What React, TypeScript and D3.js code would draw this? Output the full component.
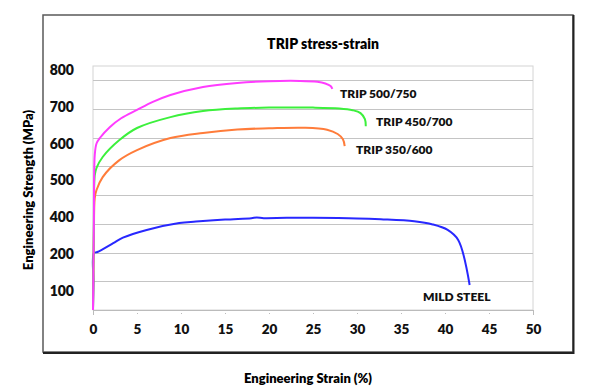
import { useRef, useEffect } from 'react'
import * as d3 from 'd3'

// strain (%) vs engineering stress (MPa)
const trip500: [number, number][] = [
    [0, 0], [0.1, 300], [0.2, 540], [0.4, 580], [0.8, 600], [1.9, 637], [3.2, 668], [5, 697],
    [6.8, 725], [8.8, 749], [12.5, 777], [16.4, 791], [20, 797], [23.5, 798], [25.5, 795],
    [26.4, 789], [27.0, 780], [27.2, 770],
]
const trip450: [number, number][] = [
    [0, 0], [0.1, 300], [0.2, 470], [0.4, 495], [1.1, 533], [3, 592], [5, 634], [8.8, 672],
    [12.5, 693], [16.4, 702], [20, 705], [25, 705], [28, 702], [29.5, 696], [30.4, 686],
    [30.9, 665], [31.0, 640],
]
const trip350: [number, number][] = [
    [0, 0], [0.1, 250], [0.2, 390], [0.4, 418], [1.1, 463], [3, 522], [5, 557], [8.8, 599],
    [12.5, 617], [16.4, 629], [20, 633], [24, 635], [26.6, 628], [27.8, 613], [28.4, 595],
    [28.6, 571],
]
const mildSteel: [number, number][] = [
    [0, 0], [0.05, 100], [0.1, 198], [0.5, 202], [2.3, 233], [3.4, 252], [6.1, 279], [9.8, 303],
    [11.7, 308], [15, 315], [18, 320], [18.6, 322], [19.4, 320], [22, 321], [25, 321], [30, 319],
    [32.7, 316], [36.5, 309], [38.6, 298], [40.3, 279], [41.5, 244], [42.8, 87],
]

const series = [
    { name: 'TRIP 500/750', data: trip500, color: '#ff3cff', label: [340, 94] },
    { name: 'TRIP 450/700', data: trip450, color: '#3cf03c', label: [376, 122] },
    { name: 'TRIP 350/600', data: trip350, color: '#ff7c3a', label: [356, 150] },
    { name: 'MILD STEEL', data: mildSteel, color: '#2828ff', label: [423, 297] },
]

const xTicks = [0, 5, 10, 15, 20, 25, 30, 35, 40, 45, 50]
const gridValues = [100, 200, 300, 400, 500, 600, 700, 800]
// the figure's y labels are pasted on, not aligned with the grid
const yLabels = ['800', '700', '600', '500', '400', '200', '100']

const FONT = 'Lato, "Open Sans", sans-serif'

export default function App() {
    const svgRef = useRef<SVGSVGElement>(null)

    useEffect(() => {
        if (!svgRef.current) return
        const svg = d3.select(svgRef.current)
        svg.selectAll('*').remove()

        const width = 606
        const height = 388
        const plot = { left: 93, right: 533, top: 66, bottom: 310 }

        svg.attr('width', width).attr('height', height)

        svg.append('rect')
            .attr('width', width).attr('height', height)
            .style('fill', '#fff')

        // outer frame
        svg.append('rect')
            .attr('x', 43).attr('y', 15)
            .attr('width', 530).attr('height', 337)
            .style('fill', 'none')
            .style('stroke', '#5a5a5a')
            .style('stroke-width', 1.5)
        svg.append('path')
            .attr('d', 'M573.5,15 V353 H43')
            .style('fill', 'none')
            .style('stroke', '#222')
            .style('stroke-width', 2)

        const x = d3.scaleLinear().domain([0, 50]).range([plot.left, plot.right])
        const y = d3.scaleLinear().domain([0, 850]).range([plot.bottom, plot.top])
        const yLab = d3.scalePoint<string>().domain(yLabels).range([70, 291])

        // plot area border
        svg.append('rect')
            .attr('x', plot.left).attr('y', plot.top)
            .attr('width', plot.right - plot.left)
            .attr('height', plot.bottom - plot.top)
            .style('fill', 'none')
            .style('stroke', '#d4d4d4')

        // grid lines
        svg.append('g')
            .selectAll('line')
            .data(gridValues)
            .enter()
            .append('line')
            .attr('x1', plot.left).attr('x2', plot.right)
            .attr('y1', d => Math.round(y(d)) + 0.5)
            .attr('y2', d => Math.round(y(d)) + 0.5)
            .style('stroke', '#c4c4c4')

        // x axis
        const xAxis = svg.append('g')
            .attr('transform', `translate(0,${plot.bottom})`)
            .call(d3.axisBottom(x).tickValues(xTicks).tickSize(5).tickPadding(9))
        xAxis.select('.domain').style('stroke', '#bbb')
        xAxis.selectAll('.tick line')
            .style('stroke', '#bbb')
            .style('stroke-dasharray', '1,2')
        xAxis.selectAll('text')
            .style('fill', '#111')
            .style('font-size', '13.5px')
            .style('font-weight', 800)
            .style('font-family', FONT)

        // y labels
        svg.append('g')
            .selectAll('text')
            .data(yLabels)
            .enter()
            .append('text')
            .attr('x', 74)
            .attr('y', d => yLab(d)!)
            .attr('dy', '0.35em')
            .attr('text-anchor', 'end')
            .style('fill', '#111')
            .style('font-size', '14px')
            .style('font-weight', 800)
            .style('font-family', FONT)
            .text(d => d)

        // curves
        const line = d3.line<[number, number]>()
            .x(d => x(d[0]))
            .y(d => y(d[1]))
            .curve(d3.curveCatmullRom.alpha(0.5))

        svg.append('g')
            .selectAll('path')
            .data([...series].reverse())
            .enter()
            .append('path')
            .attr('d', d => line(d.data))
            .style('fill', 'none')
            .style('stroke', d => d.color)
            .style('stroke-width', 2)

        // series labels
        svg.append('g')
            .selectAll('text')
            .data(series)
            .enter()
            .append('text')
            .attr('x', d => d.label[0])
            .attr('y', d => d.label[1])
            .attr('dy', '0.35em')
            .style('fill', '#111')
            .style('font-size', '12px')
            .style('font-weight', 800)
            .style('font-family', FONT)
            .text(d => d.name)

        // titles
        svg.append('text')
            .attr('x', 323).attr('y', 44)
            .attr('dy', '0.35em')
            .attr('text-anchor', 'middle')
            .style('font-size', '14px')
            .style('font-weight', 800)
            .style('font-family', FONT)
            .text('TRIP stress-strain')

        svg.append('text')
            .attr('transform', 'translate(28,190) rotate(-90)')
            .attr('dy', '0.35em')
            .attr('text-anchor', 'middle')
            .style('font-size', '13px')
            .style('font-weight', 800)
            .style('font-family', FONT)
            .text('Engineering Strength (MPa)')

        svg.append('text')
            .attr('x', 308).attr('y', 378)
            .attr('dy', '0.35em')
            .attr('text-anchor', 'middle')
            .style('font-size', '13px')
            .style('font-weight', 800)
            .style('font-family', FONT)
            .text('Engineering Strain (%)')
    }, [])

    return (
        <svg ref={svgRef} style={{ position: 'absolute', left: 0, top: 0, display: 'block' }} />
    )
}
